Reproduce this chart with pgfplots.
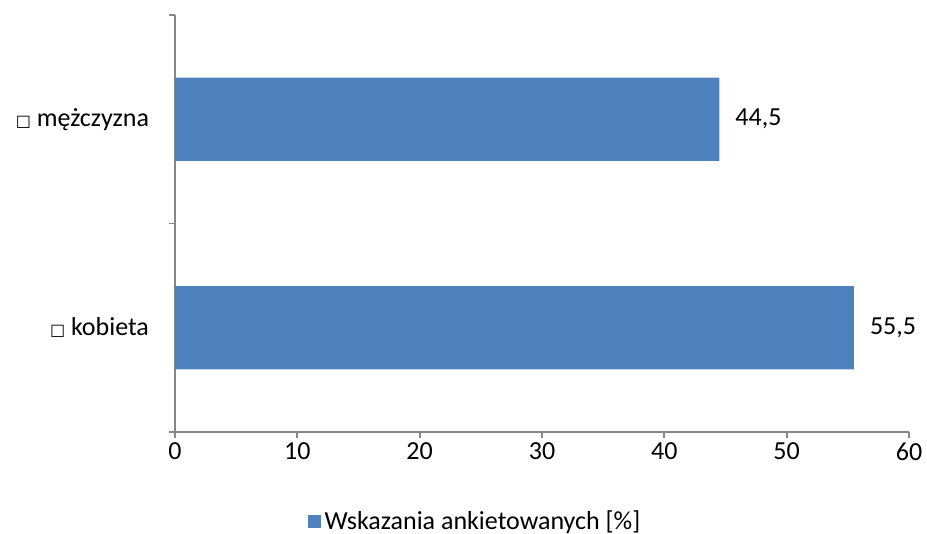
\documentclass[border=0pt]{standalone}
\usepackage{fontspec}
\setmainfont{Carlito}
\newfontfamily\dejavu{DejaVu Sans}
\usepackage{pgfplots}
\pgfplotsset{compat=1.18}
\definecolor{barblue}{HTML}{4F81BD}
\definecolor{axisgray}{HTML}{868686}
\newcommand{\sq}{{\dejavu\fontsize{8}{8}\selectfont □}}
\begin{document}
\fontsize{13}{15.6}\selectfont
\begin{tikzpicture}
\useasboundingbox (0,0) rectangle (463.5pt,267pt);
\begin{axis}[
  at={(87.5pt,51pt)}, anchor=south west,
  scale only axis,
  width=367pt, height=208.5pt,
  xbar, bar width=0.4,
  xmin=0, xmax=60, ymin=-0.5, ymax=1.5,
  xtick={0,10,...,60},
  ytick={-0.5,0.5,1.5},
  y tick label as interval=true,
  yticklabels={\sq\ kobieta,\sq\ mężczyzna},
  axis lines*=left,
  axis line style={draw=axisgray, line width=0.9pt},
  tick style={draw=axisgray, line width=0.9pt},
  major tick length=3pt,
  tick align=outside,
  /pgf/number format/assume math mode=true,
  xticklabel style={font=\fontsize{13}{15.6}\selectfont, yshift=2pt},
  yticklabel style={font=\fontsize{13}{15.6}\selectfont, xshift=-5.5pt},
  nodes near coords,
  nodes near coords style={font=\fontsize{13}{15.6}\selectfont, anchor=west, xshift=3.5pt,
    /pgf/number format/.cd, use comma, fixed, fixed zerofill, precision=1, assume math mode=true},
  legend style={at={(0.41,-0.215)}, anchor=center, draw=none, fill=none,
    font=\fontsize{13}{15.6}\selectfont, inner sep=0pt,
    /tikz/every even column/.append style={column sep=0pt}},
  legend image code/.code={\fill[barblue] (0pt,-3.25pt) rectangle (6.5pt,3.25pt);},
  legend cell align=left,
]
\addplot[fill=barblue, draw=none] coordinates {(55.5,0) (44.5,1)};
\addlegendentry{Wskazania ankietowanych [\%]}
\end{axis}
\end{tikzpicture}
\end{document}
